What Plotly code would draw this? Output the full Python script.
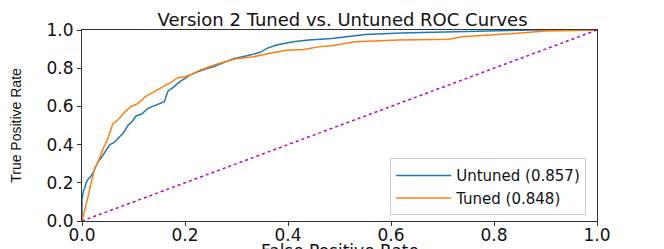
import plotly.graph_objects as go

untuned_fpr = [0, 0, 0.003, 0.005, 0.008, 0.012, 0.016, 0.021, 0.026, 0.031, 0.037, 0.044, 0.05, 0.054,
               0.062, 0.07, 0.08, 0.089, 0.097, 0.105, 0.116, 0.128, 0.138, 0.148, 0.156, 0.16, 0.163,
               0.167, 0.177, 0.19, 0.21, 0.223, 0.24, 0.255, 0.275, 0.294, 0.32, 0.346, 0.359, 0.378,
               0.41, 0.44, 0.485, 0.55, 0.62, 0.68, 0.75, 0.81, 0.874, 0.94, 1.0]
untuned_tpr = [0, 0.11, 0.16, 0.17, 0.2, 0.22, 0.23, 0.25, 0.28, 0.31, 0.33, 0.36, 0.38, 0.40,
               0.41, 0.43, 0.46, 0.50, 0.52, 0.55, 0.56, 0.59, 0.60, 0.61, 0.62, 0.625, 0.65,
               0.68, 0.70, 0.73, 0.764, 0.78, 0.795, 0.808, 0.83, 0.85, 0.865, 0.883, 0.904, 0.921,
               0.939, 0.948, 0.956, 0.977, 0.984, 0.988, 0.991, 0.995, 1.0, 1.0, 1.0]

tuned_fpr = [0, 0.002, 0.005, 0.008, 0.012, 0.015, 0.02, 0.025, 0.03, 0.034, 0.041, 0.045, 0.05,
             0.055, 0.06, 0.07, 0.083, 0.095, 0.105, 0.115, 0.122, 0.135, 0.148, 0.163, 0.175, 0.186,
             0.2, 0.21, 0.229, 0.25, 0.268, 0.30, 0.333, 0.365, 0.397, 0.43, 0.462, 0.485, 0.53,
             0.615, 0.712, 0.738, 0.79, 0.84, 0.9, 0.95, 1.0]
tuned_tpr = [0, 0.02, 0.06, 0.084, 0.13, 0.17, 0.22, 0.28, 0.30, 0.33, 0.38, 0.40, 0.43,
             0.47, 0.51, 0.53, 0.57, 0.60, 0.61, 0.63, 0.65, 0.67, 0.69, 0.71, 0.73, 0.75,
             0.755, 0.764, 0.79, 0.81, 0.826, 0.85, 0.86, 0.878, 0.894, 0.898, 0.913, 0.918, 0.939,
             0.948, 0.951, 0.965, 0.972, 0.982, 0.995, 0.998, 1.0]

chance = [0, 1]
tick_vals = [0, 0.2, 0.4, 0.6, 0.8, 1.0]

title_text = "Version 2 Tuned vs. Untuned ROC Curves"
x_title = "False Positive Rate"
y_title = "True Positive Rate"
labels = ["Untuned (0.857)", "Tuned (0.848)"]

font = "DejaVu Sans, sans-serif"

fig = go.Figure()
fig.add_trace(go.Scatter(x=untuned_fpr, y=untuned_tpr, mode="lines", name=labels[0],
                         line=dict(color="#1f77b4", width=1.5)))
fig.add_trace(go.Scatter(x=tuned_fpr, y=tuned_tpr, mode="lines", name=labels[1],
                         line=dict(color="#ff7f0e", width=1.5)))
fig.add_trace(go.Scatter(x=chance, y=chance, mode="lines", showlegend=False,
                         line=dict(color="#c000c0", width=1.5, dash="dot")))

axis_common = dict(range=[0, 1], tickvals=tick_vals, tickformat=".1f", showgrid=False,
                   zeroline=False, showline=True, linecolor="#333", linewidth=1, mirror=True,
                   ticks="outside", ticklen=4, tickcolor="#333", automargin=False,
                   tickfont=dict(family=font, size=17, color="#111"))

# page body has an 8px default margin; figure sized so it fits the 664x249 window
fig.update_layout(
    width=656, height=241,
    margin=dict(l=74, r=67, t=22, b=28),
    paper_bgcolor="white", plot_bgcolor="white",
    title=dict(text=title_text, x=0.51, xanchor="center", y=0.95, yanchor="middle",
               automargin=False, font=dict(family=font, size=18, color="#111")),
    xaxis=dict(**axis_common, ticklabelstandoff=-5),
    yaxis=dict(**axis_common, title=dict(text=y_title, standoff=21,
                                         font=dict(family="Liberation Sans, sans-serif", size=14, color="#111"))),
    legend=dict(x=0.979, xanchor="right", y=0.03, yanchor="bottom", itemwidth=55,
                bgcolor="rgba(255,255,255,0.85)", bordercolor="#ccc", borderwidth=1,
                font=dict(family=font, size=15, color="#111"), tracegroupgap=0),
    annotations=[dict(text=x_title, xref="paper", yref="paper", x=0.5, y=-0.095,
                      xanchor="center", yanchor="top", showarrow=False,
                      font=dict(family=font, size=17, color="#111"))],
    showlegend=True,
)

fig.write_html("out.html")
